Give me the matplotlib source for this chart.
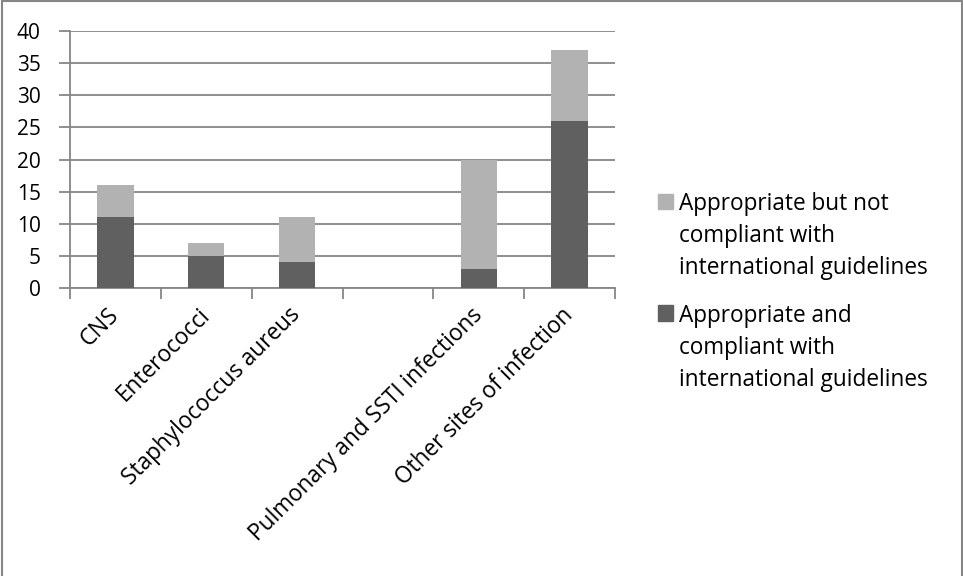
import matplotlib
matplotlib.use("Agg")
import matplotlib.pyplot as plt
from matplotlib.patches import Rectangle, Patch
from matplotlib.legend_handler import HandlerPatch
import numpy as np

categories = ["CNS", "Enterococci", "Staphylococcus aureus", "",
              "Pulmonary and SSTI infections", "Other sites of infection"]
compliant = [11, 5, 4, 0, 3, 26]
not_compliant = [5, 2, 7, 0, 17, 11]
series_labels = ["Appropriate but not\ncompliant with\ninternational guidelines",
                 "Appropriate and\ncompliant with\ninternational guidelines"]
yticks = [0, 5, 10, 15, 20, 25, 30, 35, 40]

DARK = "#606060"
LIGHT = "#b2b2b2"
GRID = "#868686"
FONT = "Open Sans"
FS_Y = 15
FS = 16.3

plt.rcParams['font.family'] = [FONT, 'DejaVu Sans']

fig = plt.figure(figsize=(9.63, 5.76), dpi=100)
ax = fig.add_axes([70/963, 1-288/576, (615-70)/963, (288-31)/576])

x = np.arange(len(categories))
ax.bar(x, compliant, width=0.4, color=DARK, zorder=3)
ax.bar(x, not_compliant, width=0.4, bottom=compliant, color=LIGHT, zorder=3)

ax.set_xlim(-0.5, len(categories)-0.5)
ax.set_ylim(0, 40)
ax.set_yticks(yticks)
ax.set_yticklabels([str(v) for v in yticks], fontsize=FS_Y, color="black")
ax.yaxis.grid(True, color=GRID, linewidth=1.3, zorder=0)
ax.tick_params(axis='y', length=8, width=1.3, color=GRID, pad=13)

ax.set_xticks(x)
ax.set_xticklabels(categories, rotation=45, ha='right', va='center',
                   rotation_mode='anchor', fontsize=FS)
ax.tick_params(axis='x', which='major', length=0, pad=17)
ax.set_xticks(np.arange(len(categories)+1)-0.5, minor=True)
ax.tick_params(axis='x', which='minor', length=8, width=1.3, color=GRID)

for s in ['top', 'right']:
    ax.spines[s].set_visible(False)
for s in ['left', 'bottom']:
    ax.spines[s].set_color(GRID)
    ax.spines[s].set_linewidth(1.3)

LINESP = 1.44
OFFSET = 26.0  # points: square sits beside first line


def top_square(legend, orig_handle, xdescent, ydescent, width, height, fontsize):
    return Rectangle((-xdescent, -ydescent + OFFSET), width, height)


handles = [Patch(color=LIGHT), Patch(color=DARK)]
leg = ax.legend(handles, series_labels, loc='upper left',
                bbox_to_anchor=(658/963, 1-192.5/576), bbox_transform=fig.transFigure,
                frameon=False, fontsize=FS, handlelength=0.68, handleheight=0.68,
                handletextpad=0.25, labelspacing=1.06, borderaxespad=0, borderpad=0,
                handler_map={Patch: HandlerPatch(patch_func=top_square)})
for t in leg.get_texts():
    t.set_linespacing(LINESP)

fig.patches.append(Rectangle((1.5/963, -5/576), 960/963, 580/576, transform=fig.transFigure,
                             fill=False, edgecolor=GRID, linewidth=1.5))

fig.savefig("out.png", dpi=100)
